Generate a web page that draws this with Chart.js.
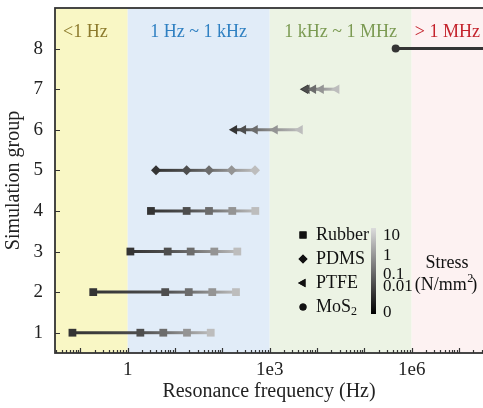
<!DOCTYPE html>
<html>
<head>
<title>Resonance frequency by simulation group</title>
<script src="https://cdn.jsdelivr.net/npm/chart.js@4.4.1/dist/chart.umd.min.js"></script>
<style>
    html, body { margin: 0; padding: 0; background: #ffffff; }
    #wrap { width: 483px; height: 408px; }
</style>
</head>
<body>
<div id="wrap"><canvas id="freqChart" width="483" height="408"></canvas></div>
<script>
    // simulation groups and their material
    const groups = [1, 2, 3, 4, 5, 6, 7, 8];
    const materials = ['Rubber', 'Rubber', 'Rubber', 'Rubber', 'PDMS', 'PTFE', 'PTFE', 'MoS2'];

    // resonance frequency (Hz), ordered by stress 0, 0.01, 0.1, 1, 10 N/mm2
    const freqGroup1 = [0.068, 1.85, 5.65, 17.9, 56.8];
    const freqGroup2 = [0.187, 6.2, 19.5, 61.2, 194];
    const freqGroup3 = [1.14, 7.0, 21.4, 67.6, 207];
    const freqGroup4 = [3.1, 17.6, 52.2, 162, 497];
    const freqGroup5 = [3.96, 17.6, 52.2, 157, 490];
    const freqGroup6 = [179, 277, 490, 1294, 4375];
    const freqGroup7 = [5650, 6080, 8360, 12160, 26000];
    const freqGroup8 = [459000, 1.0e8];

    const bandEdges = [1, 1e3, 1e6];
    const bandLabels = ['<1 Hz', '1 Hz ~ 1 kHz', '1 kHz ~ 1 MHz', '> 1 MHz'];
    const xTickValues = [1, 1e3, 1e6];
    const xTickLabels = ['1', '1e3', '1e6'];
    const yTickValues = [1, 2, 3, 4, 5, 6, 7, 8];
    const legendLabels = ['Rubber', 'PDMS', 'PTFE', 'MoS'];
    const colorbarLabels = ['10', '1', '0.1', '0.01', '0'];

    // styles
    const stressGrays = ['#343434', '#4e4e4e', '#6c6c6c', '#949494', '#bdbdbd'];
    const bandFills = ['#f9f7c5', '#e1ecf8', '#ecf3e4', '#fdf2f2'];
    const bandTextColors = ['#8c7a2c', '#2f80c2', '#7b9a52', '#c4232c'];
    const markerStyle = {
        Rubber: { style: 'rect', radius: 5.5, rotation: 0 },
        PDMS: { style: 'rectRot', radius: 5, rotation: 0 },
        PTFE: { style: 'triangle', radius: 5.5, rotation: -90 },
        MoS2: { style: 'circle', radius: 4, rotation: 0 },
    };
    const serif = '"Liberation Serif", "DejaVu Serif", serif';

    const canvas = document.getElementById('freqChart');
    const g2d = canvas.getContext('2d');

    const allFreqs = [freqGroup1, freqGroup2, freqGroup3, freqGroup4, freqGroup5, freqGroup6, freqGroup7, freqGroup8];

    const groupColors = (i) => i === 7 ? [stressGrays[0], stressGrays[0]] : stressGrays;

    const segmentGradient = (colors) => (ctx) => {
        const grad = g2d.createLinearGradient(ctx.p0.x, 0, ctx.p1.x + 0.01, 0);
        grad.addColorStop(0, colors[ctx.p0DataIndex]);
        grad.addColorStop(1, colors[ctx.p1DataIndex]);
        return grad;
    };

    const datasets = groups.map((g, i) => {
        const m = markerStyle[materials[i]];
        const colors = groupColors(i);
        return {
            label: 'Group ' + g,
            data: allFreqs[i].map(f => ({ x: f, y: g })),
            borderWidth: 3,
            borderColor: colors[0],
            segment: { borderColor: segmentGradient(colors) },
            pointStyle: m.style,
            pointRadius: m.radius,
            pointRotation: m.rotation,
            pointBackgroundColor: colors,
            pointBorderColor: colors,
            pointBorderWidth: 0,
            tension: 0,
        };
    });

    const bands = {
        id: 'bands',
        beforeDraw(chart) {
            const { ctx, chartArea: a, scales: { x } } = chart;
            const edges = [a.left, ...bandEdges.map(v => x.getPixelForValue(v)), a.right];
            ctx.save();
            for (let i = 0; i < bandFills.length; i++) {
                ctx.fillStyle = bandFills[i];
                ctx.fillRect(edges[i], a.top, edges[i + 1] - edges[i], a.bottom - a.top);
                ctx.fillStyle = bandTextColors[i];
                ctx.font = '18px ' + serif;
                ctx.textAlign = 'center';
                ctx.textBaseline = 'middle';
                const cx = i === 0 ? (edges[i] + edges[i + 1]) / 2 - 6 : (edges[i] + edges[i + 1]) / 2;
                ctx.fillText(bandLabels[i], cx, a.top + 24);
            }
            ctx.restore();
        }
    };

    const frameTicks = {
        id: 'frameTicks',
        afterDatasetsDraw(chart) {
            const { ctx, chartArea: a, scales: { x, y } } = chart;
            ctx.save();
            ctx.strokeStyle = '#333333';
            ctx.lineWidth = 1.2;
            ctx.beginPath();
            for (let e = -2; e <= 8; e++) {
                for (let m = 1; m <= 9; m++) {
                    const v = m * Math.pow(10, e);
                    if (v < x.min || v > x.max) continue;
                    const px = Math.round(x.getPixelForValue(v)) + 0.5;
                    const len = m === 1 ? 5 : 3;
                    ctx.moveTo(px, a.bottom);
                    ctx.lineTo(px, a.bottom - len);
                }
            }
            yTickValues.forEach(v => {
                const py = Math.round(y.getPixelForValue(v)) + 0.5;
                ctx.moveTo(a.left, py);
                ctx.lineTo(a.left + 5, py);
            });
            ctx.stroke();
            ctx.lineWidth = 1.8;
            ctx.strokeRect(a.left, a.top, a.right - a.left + 10, a.bottom - a.top);
            ctx.restore();
        }
    };

    const legendBox = {
        id: 'legendBox',
        afterDraw(chart) {
            const { ctx } = chart;
            const rowsY = [235, 259, 283, 307];
            const keys = ['Rubber', 'PDMS', 'PTFE', 'MoS2'];
            ctx.save();
            ctx.fillStyle = '#111111';
            keys.forEach((k, i) => {
                const m = markerStyle[k];
                Chart.helpers.drawPoint(ctx, {
                    pointStyle: m.style, radius: m.radius - 0.5, rotation: m.rotation, borderWidth: 0
                }, 303, rowsY[i]);
                ctx.fill();
            });
            ctx.font = '18px ' + serif;
            ctx.textAlign = 'left';
            ctx.textBaseline = 'middle';
            legendLabels.forEach((t, i) => ctx.fillText(t, 316, rowsY[i]));
            const mosW = ctx.measureText('MoS').width;
            ctx.font = '12px ' + serif;
            ctx.fillText('2', 316 + mosW, rowsY[3] + 5);

            // colour bar for stress
            const grad = ctx.createLinearGradient(0, 314, 0, 228);
            grad.addColorStop(0, '#000000');
            grad.addColorStop(1, '#dcdcdc');
            ctx.fillStyle = grad;
            ctx.fillRect(371, 228, 5, 86);
            ctx.fillStyle = '#111111';
            ctx.font = '17px ' + serif;
            const barY = [236, 256, 275, 287, 313];
            colorbarLabels.forEach((t, i) => ctx.fillText(t, 383, barY[i]));
            ctx.textAlign = 'center';
            ctx.font = '18px ' + serif;
            ctx.fillText('Stress', 447, 263);
            ctx.fillText('(N/mm )', 446, 285);
            const w = ctx.measureText('(N/mm )').width;
            ctx.font = '12px ' + serif;
            ctx.fillText('2', 446 + w / 2 - 7, 279);
            ctx.restore();
        }
    };

    const chart = new Chart(canvas, {
        type: 'line',
        data: { datasets: datasets },
        options: {
            responsive: false,
            devicePixelRatio: 1,
            animation: false,
            layout: { autoPadding: false, padding: { top: 8, right: 0, left: 0, bottom: 0 } },
            plugins: { legend: { display: false }, tooltip: { enabled: false } },
            scales: {
                x: {
                    type: 'logarithmic',
                    min: Math.pow(10, -1.536),
                    max: Math.pow(10, 7.507),
                    grid: { display: false, drawTicks: false },
                    border: { display: false },
                    afterFit: s => { s.height = 55; s.paddingLeft = 0; s.paddingRight = 0; },
                    afterBuildTicks: s => { s.ticks = xTickValues.map(v => ({ value: v })); },
                    ticks: {
                        autoSkip: false,
                        maxRotation: 0,
                        padding: 6,
                        color: '#222222',
                        font: { family: serif, size: 19 },
                        callback: (v) => {
                            const i = xTickValues.indexOf(v);
                            return i >= 0 ? xTickLabels[i] : '';
                        }
                    },
                    title: {
                        display: true,
                        text: 'Resonance frequency (Hz)',
                        color: '#222222',
                        font: { family: serif, size: 20 },
                        padding: { top: 0, bottom: 4 }
                    }
                },
                y: {
                    type: 'linear',
                    min: 0.5,
                    max: 9,
                    grid: { display: false, drawTicks: false },
                    border: { display: false },
                    afterFit: s => { s.width = 55; s.paddingTop = 0; s.paddingBottom = 0; },
                    afterBuildTicks: s => { s.ticks = yTickValues.map(v => ({ value: v })); },
                    ticks: {
                        padding: 12,
                        color: '#222222',
                        font: { family: serif, size: 19 }
                    },
                    title: {
                        display: true,
                        text: 'Simulation group',
                        color: '#222222',
                        font: { family: serif, size: 20 },
                        padding: { top: 2, bottom: 0 }
                    }
                }
            }
        },
        plugins: [bands, frameTicks, legendBox]
    });
</script>
</body>
</html>
